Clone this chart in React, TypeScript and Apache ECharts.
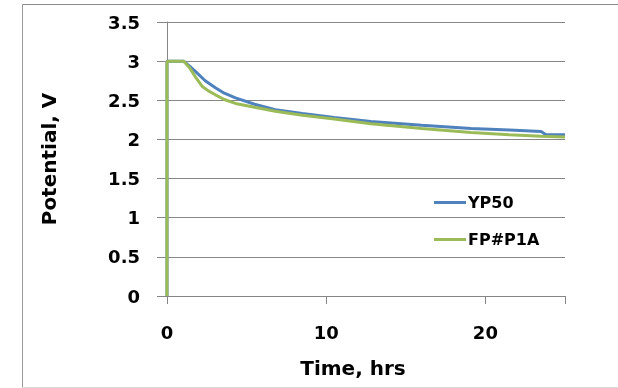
import React, { useEffect, useRef } from "react";
import * as echarts from "echarts";

const seriesNames = ["YP50", "FP#P1A"];
const seriesColors = ["#4F81BD", "#9BBB59"];

const ypTime = [0, 0, 1.05, 1.4, 1.78, 2.4, 3.04, 3.6, 4.3, 5.5, 6.8, 8.5, 10.5, 12.8, 16, 19.1, 21.5, 23.5, 23.8, 25];
const ypVolt = [0, 3, 3, 2.94, 2.87, 2.75, 2.66, 2.59, 2.53, 2.45, 2.38, 2.33, 2.28, 2.23, 2.18, 2.14, 2.12, 2.1, 2.06, 2.06];

const fpTime = [0, 0, 1.05, 1.4, 1.78, 2.2, 2.6, 3.04, 3.6, 4.3, 5.5, 6.8, 8.5, 10.5, 12.8, 16, 19.1, 21.5, 23.5, 25];
const fpVolt = [0, 3, 3, 2.92, 2.8, 2.68, 2.62, 2.57, 2.51, 2.46, 2.41, 2.36, 2.31, 2.26, 2.2, 2.14, 2.09, 2.06, 2.04, 2.03];

const xTicks = [0, 10, 20];
const yTicks = [0, 0.5, 1, 1.5, 2, 2.5, 3, 3.5];

const FONT = "DejaVu Sans";
const GRID_COLOR = "#868686";

export default function App() {
  const ref = useRef<HTMLDivElement>(null);
  useEffect(() => {
    if (!ref.current) return;
    const chart = echarts.init(ref.current, null, { renderer: "svg" });
    const pair = (t: number[], v: number[]) => t.map((x, i) => [x, v[i]]);
    chart.setOption({
      animation: false,
      graphic: [
        { type: "line", shape: { x1: 22.5, y1: 4.5, x2: 618, y2: 4.5 }, style: { stroke: "#8a8a8a", lineWidth: 1 } },
        { type: "line", shape: { x1: 22.5, y1: 4.5, x2: 22.5, y2: 387.5 }, style: { stroke: "#9a9a9a", lineWidth: 1 } },
        { type: "line", shape: { x1: 22.5, y1: 387.5, x2: 618, y2: 387.5 }, style: { stroke: "#d9d9d9", lineWidth: 1 } },
      ],
      grid: { left: 167, right: 53, top: 22, bottom: 92 },
      legend: {
        orient: "vertical",
        left: 429,
        top: 189,
        icon: "rect",
        itemWidth: 32,
        itemHeight: 3,
        itemGap: 20,
        data: seriesNames,
        textStyle: { fontFamily: FONT, fontWeight: "bold", fontSize: 16, color: "#000", lineHeight: 17, padding: [0, 0, 0, -3] },
      },
      xAxis: {
        type: "value",
        min: 0,
        max: 25,
        interval: 10,
        name: "Time, hrs",
        nameLocation: "middle",
        nameGap: 62,
        nameTextStyle: { fontFamily: FONT, fontWeight: "bold", fontSize: 20, color: "#000", padding: [0, 26, 0, 0] },
        axisLine: { show: true, lineStyle: { color: GRID_COLOR, width: 1 } },
        axisTick: { show: true, length: 8, lineStyle: { color: GRID_COLOR } },
        axisLabel: {
          margin: 27,
          fontFamily: FONT,
          fontWeight: "bold",
          fontSize: 18,
          color: "#000",
          formatter: (v: number) => (xTicks.includes(v) ? String(v) : ""),
        },
        splitLine: { show: false },
      },
      yAxis: {
        type: "value",
        min: 0,
        max: 3.5,
        interval: 0.5,
        name: "Potential, V",
        nameLocation: "middle",
        nameGap: 108,
        nameTextStyle: { fontFamily: FONT, fontWeight: "bold", fontSize: 20, color: "#000" },
        axisLine: { show: true, lineStyle: { color: GRID_COLOR, width: 1 } },
        axisTick: { show: true, length: 10, lineStyle: { color: GRID_COLOR } },
        axisLabel: {
          margin: 27,
          fontFamily: FONT,
          fontWeight: "bold",
          fontSize: 18,
          color: "#000",
          formatter: (v: number) => (yTicks.includes(v) ? String(v) : ""),
        },
        splitLine: { show: true, lineStyle: { color: GRID_COLOR, width: 1 } },
      },
      series: [
        {
          name: seriesNames[0],
          type: "line",
          data: pair(ypTime, ypVolt),
          showSymbol: false,
          symbol: "none",
          lineStyle: { color: seriesColors[0], width: 3 },
          itemStyle: { color: seriesColors[0] },
        },
        {
          name: seriesNames[1],
          type: "line",
          data: pair(fpTime, fpVolt),
          showSymbol: false,
          symbol: "none",
          lineStyle: { color: seriesColors[1], width: 3 },
          itemStyle: { color: seriesColors[1] },
        },
      ],
    });
    return () => chart.dispose();
  }, []);
  return <div ref={ref} style={{ position: "fixed", left: 0, top: 0, width: 618, height: 388 }} />;
}
